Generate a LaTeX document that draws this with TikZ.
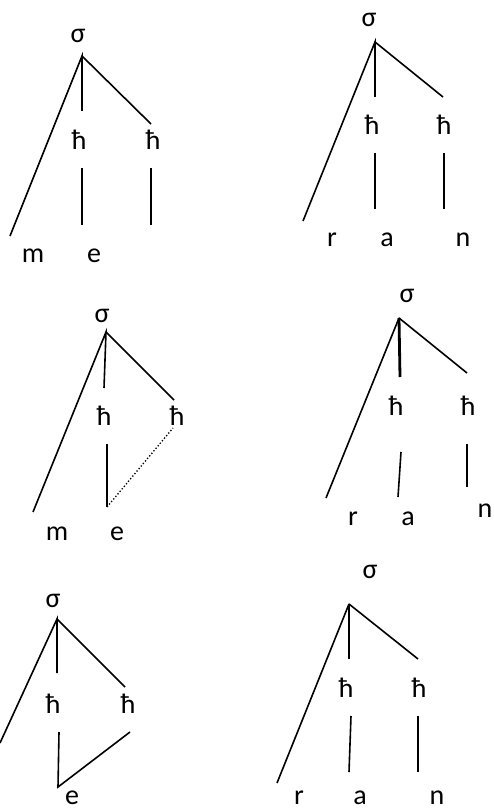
\documentclass[tikz,border=0pt]{standalone}
\usepackage{fontspec}
\setmainfont{Carlito}
\begin{document}
\begin{tikzpicture}[x=1pt,y=-1pt,
  lbl/.style={anchor=base,inner sep=0pt,font=\fontsize{28}{32}\selectfont},
  br/.style={line width=1.6pt},
  thk/.style={line width=2.8pt},
  dots/.style={line width=1.3pt,dotted}]
\useasboundingbox (0,0) rectangle (494,810);
\clip (0,0) rectangle (494,810);
% ---------- Tree 1 ----------
\node[lbl] (s1) at (78,43) {σ};
\node[lbl] (h1a) at (79,150) {ħ};
\node[lbl] (h1b) at (153,150) {ħ};
\node[lbl] (m1) at (33,262) {m};
\node[lbl] (e1) at (94,262) {e};
\coordinate (a1) at (82,56);
\coordinate (l1) at (10,236);
\coordinate (c1) at (82,111);
\coordinate (r1) at (151,124);
\coordinate (p1t) at (82,168); \coordinate (p1b) at (82,225);
\coordinate (q1t) at (151,168); \coordinate (q1b) at (151,225);
\draw[br] (l1) -- (a1) -- (c1);
\draw[br] (a1) -- (r1);
\draw[br] (p1t) -- (p1b);
\draw[br] (q1t) -- (q1b);
% ---------- Tree 2 ----------
\node[lbl] (s2) at (369,27) {σ};
\node[lbl] (h2a) at (372,135) {ħ};
\node[lbl] (h2b) at (444,135) {ħ};
\node[lbl] (r2) at (332,247) {r};
\node[lbl] (x2) at (387,247) {a};
\node[lbl] (n2) at (463,247) {n};
\coordinate (a2) at (375,42);
\coordinate (l2) at (303,221);
\coordinate (c2) at (375,97);
\coordinate (rr2) at (443,97);
\coordinate (p2t) at (375,153); \coordinate (p2b) at (375,209);
\coordinate (q2t) at (444,153); \coordinate (q2b) at (444,209);
\draw[br] (l2) -- (a2) -- (c2);
\draw[br] (a2) -- (rr2);
\draw[br] (p2t) -- (p2b);
\draw[br] (q2t) -- (q2b);
% ---------- Tree 3 ----------
\node[lbl] (s3) at (102,322) {σ};
\node[lbl] (h3a) at (104,425) {ħ};
\node[lbl] (h3b) at (177,425) {ħ};
\node[lbl] (m3) at (57,540) {m};
\node[lbl] (e3) at (117,540) {e};
\coordinate (a3) at (106,332);
\coordinate (l3) at (33,512);
\coordinate (c3) at (104,388);
\coordinate (r3) at (174,400);
\coordinate (p3t) at (107,444); \coordinate (p3b) at (107,507);
\coordinate (q3) at (173,428);
\draw[br] (l3) -- (a3) -- (c3);
\draw[br] (a3) -- (r3);
\draw[br] (p3t) -- (p3b);
\draw[dots] (p3b) -- (q3);
% ---------- Tree 4 ----------
\node[lbl] (s4) at (407,302) {σ};
\node[lbl] (h4a) at (396,415) {ħ};
\node[lbl] (h4b) at (468,415) {ħ};
\node[lbl] (r4) at (353,525) {r};
\node[lbl] (x4) at (408,525) {a};
\node[lbl] (n4) at (485,517) {n};
\coordinate (a4) at (399,318);
\coordinate (l4) at (326,498);
\coordinate (c4) at (400,377);
\coordinate (rr4) at (467,373);
\coordinate (p4t) at (401,452); \coordinate (p4b) at (398,497);
\coordinate (q4t) at (467,444); \coordinate (q4b) at (467,487);
\draw[br] (l4) -- (a4);
\draw[thk] (a4) -- (c4);
\draw[br] (a4) -- (rr4);
\draw[br] (p4t) -- (p4b);
\draw[thk] (q4t) -- (q4b);
% ---------- Tree 5 ----------
\node[lbl] (s5) at (53,607) {σ};
\node[lbl] (h5a) at (53,713) {ħ};
\node[lbl] (h5b) at (128,713) {ħ};
\node[lbl] (e5) at (72,804) {e};
\coordinate (a5) at (57,619);
\coordinate (l5) at (0,743);
\coordinate (c5) at (57,673);
\coordinate (r5) at (125,687);
\coordinate (p5t) at (59,732); \coordinate (p5b) at (58,787);
\coordinate (q5t) at (130,732);
\draw[br] (l5) -- (a5) -- (c5);
\draw[br] (a5) -- (r5);
\draw[br] (p5t) -- (p5b) -- (q5t);
% ---------- Tree 6 ----------
\node[lbl] (s6) at (370,578) {σ};
\node[lbl] (h6a) at (346,697) {ħ};
\node[lbl] (h6b) at (419,697) {ħ};
\node[lbl] (r6) at (299,804) {r};
\node[lbl] (x6) at (360,804) {a};
\node[lbl] (n6) at (437,804) {n};
\coordinate (a6) at (349,604);
\coordinate (l6) at (277,783);
\coordinate (c6) at (349,659);
\coordinate (rr6) at (418,659);
\coordinate (p6t) at (351,716); \coordinate (p6b) at (349,772);
\coordinate (q6t) at (418,716); \coordinate (q6b) at (418,772);
\draw[br] (l6) -- (a6);
\draw[thk] (a6) -- (c6);
\draw[br] (a6) -- (rr6);
\draw[br] (p6t) -- (p6b);
\draw[br] (q6t) -- (q6b);
\end{tikzpicture}
\end{document}
